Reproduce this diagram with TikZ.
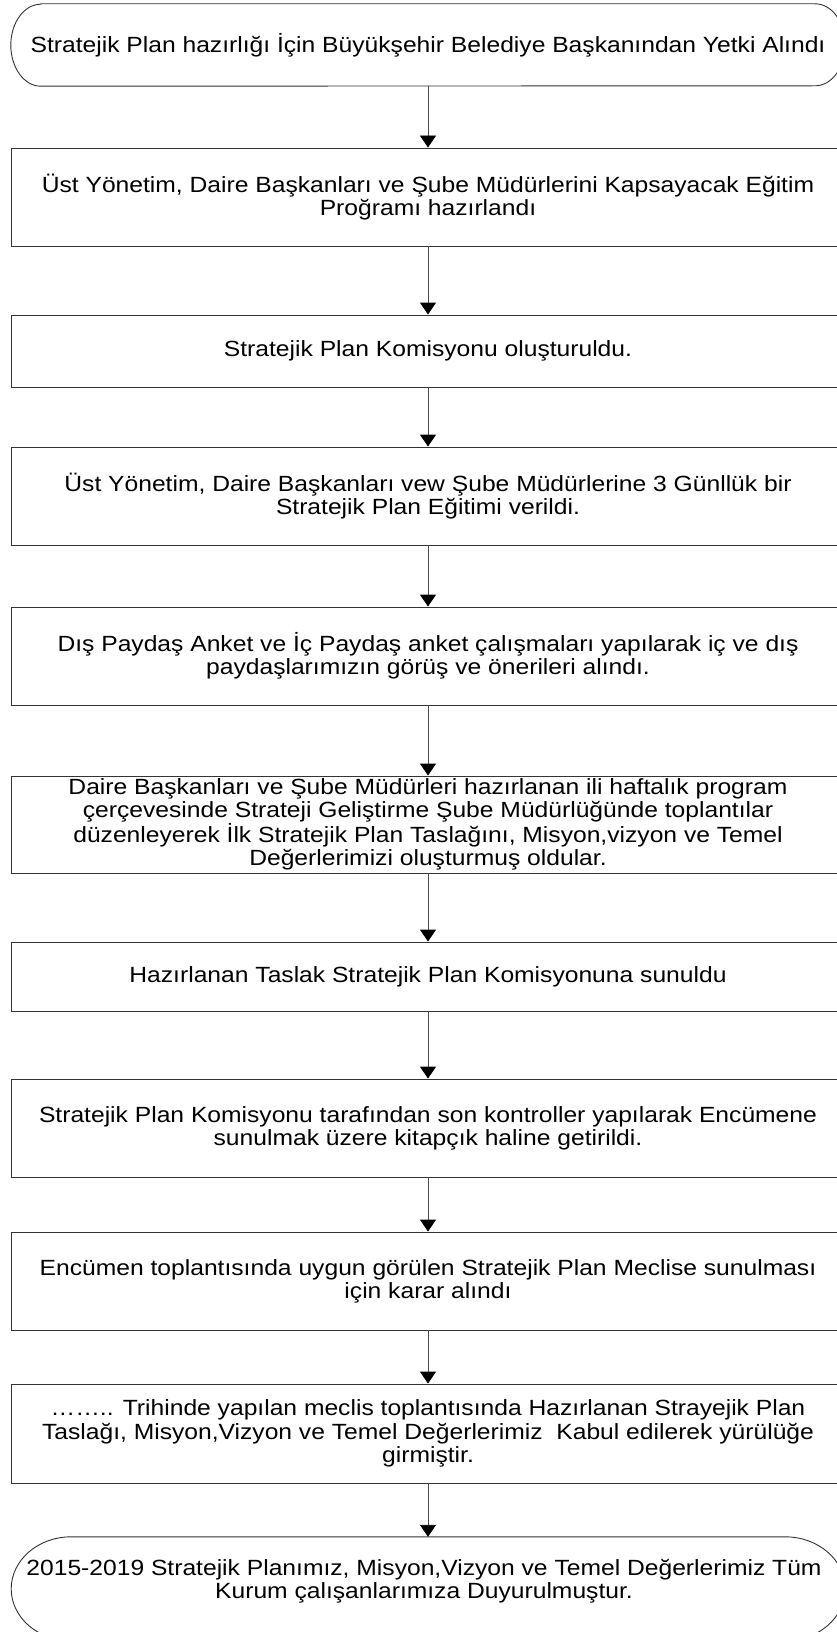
\documentclass[tikz,border=0pt]{standalone}
\usepackage{fontspec}
\setmainfont{Liberation Sans}[FakeStretch=1.12]
\usetikzlibrary{arrows.meta}

\begin{document}
\begin{tikzpicture}[x=1pt,y=-1pt,>={Triangle[width=16pt,length=12pt,color=black]},
    every node/.style={font=\fontsize{22}{23.3}\selectfont,align=center,inner sep=0pt},
    box/.style={draw=black!80,line width=0.9pt,minimum width=834pt},
    term/.style={minimum width=834pt},
    conn/.style={->,draw=black!70,line width=0.9pt}]
    \useasboundingbox (0,0) rectangle (837,1632);
    \clip (0,0) rectangle (837,1632);
    %
    \node[term,minimum height=82pt] (start) at (428,45)
      {Stratejik Plan hazırlığı İçin Büyükşehir Belediye Başkanından Yetki Alındı};
    \draw[black!80,line width=0.9pt] ([xshift=30pt]start.north west) -- ([xshift=-30pt]start.north east)
      arc[start angle=90,end angle=-90,x radius=30pt,y radius=41pt]
      -- ([xshift=30pt]start.south west)
      arc[start angle=270,end angle=90,x radius=30pt,y radius=41pt] -- cycle;
    \node[box,minimum height=98pt] (egitim) at (428,197)
      {Üst Yönetim, Daire Başkanları ve Şube Müdürlerini Kapsayacak Eğitim\\ Proğramı hazırlandı};
    \node[box,minimum height=72pt] (komisyon) at (428,351)
      {Stratejik Plan Komisyonu oluşturuldu.};
    \node[box,minimum height=98pt] (seminer) at (428,496)
      {Üst Yönetim, Daire Başkanları vew Şube Müdürlerine 3 Günllük bir\\ Stratejik Plan Eğitimi verildi.};
    \node[box,minimum height=98pt] (anket) at (428,656)
      {Dış Paydaş Anket ve İç Paydaş anket çalışmaları yapılarak iç ve dış\\ paydaşlarımızın görüş ve önerileri alındı.};
    \node[box,minimum height=97pt] (taslak) at (428,824.5)
      {Daire Başkanları ve Şube Müdürleri hazırlanan ili haftalık program\\
       çerçevesinde Strateji Geliştirme Şube Müdürlüğünde toplantılar\\
       düzenleyerek İlk Stratejik Plan Taslağını, Misyon,vizyon ve Temel\\
       Değerlerimizi oluşturmuş oldular.};
    \node[box,minimum height=69pt] (sunum) at (428,976.5)
      {Hazırlanan Taslak Stratejik Plan Komisyonuna sunuldu};
    \node[box,minimum height=98pt] (kitapcik) at (428,1128)
      {Stratejik Plan Komisyonu tarafından son kontroller yapılarak Encümene\\ sunulmak üzere kitapçık haline getirildi.};
    \node[box,minimum height=98pt] (encumen) at (428,1281)
      {Encümen toplantısında uygun görülen Stratejik Plan Meclise sunulması\\ için karar alındı};
    \node[box,minimum height=99pt] (meclis) at (428,1433.5)
      {…….. Trihinde yapılan meclis toplantısında Hazırlanan Strayejik Plan\\
       Taslağı, Misyon,Vizyon ve Temel Değerlerimiz\ \ Kabul edilerek yürülüğe\\
       girmiştir.};
    \node[term,minimum height=89pt] (duyuru) at (424,1581.5)
      {2015-2019 Stratejik Planımız, Misyon,Vizyon ve Temel Değerlerimiz Tüm\\ Kurum çalışanlarımıza Duyurulmuştur.};
    \draw[black!80,line width=0.9pt] ([xshift=64pt]duyuru.north west) -- ([xshift=-56pt]duyuru.north east)
      arc[start angle=90,end angle=-90,x radius=60pt,y radius=52pt]
      -- ++(-714pt,0)
      arc[start angle=270,end angle=90,x radius=60pt,y radius=52pt] -- cycle;
    %
    \draw[conn] (start) -- (egitim);
    \draw[conn] (egitim) -- (komisyon);
    \draw[conn] (komisyon) -- (seminer);
    \draw[conn] (seminer) -- (anket);
    \draw[conn] (anket) -- (taslak);
    \draw[conn] (taslak) -- (sunum);
    \draw[conn] (sunum) -- (kitapcik);
    \draw[conn] (kitapcik) -- (encumen);
    \draw[conn] (encumen) -- (meclis);
    \draw[conn] (meclis) -- (duyuru.north -| meclis.south);
\end{tikzpicture}
\end{document}
